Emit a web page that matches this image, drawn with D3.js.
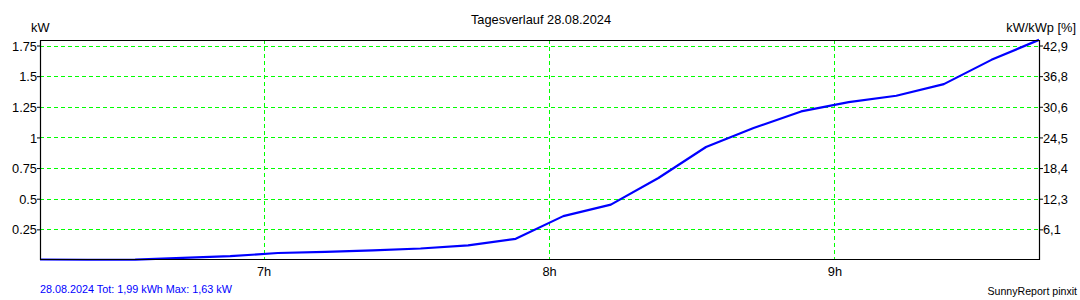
<!DOCTYPE html>
<html><head><meta charset="utf-8">
<script src="https://cdn.jsdelivr.net/npm/d3@7"></script>
<style>
body{margin:0;background:#fff;}
svg{display:block;font-family:"Liberation Sans",Arial,sans-serif;}
</style></head>
<body><svg id="c" width="1080" height="300"></svg>
<script>
// Data: times (hours) at 10-minute intervals from 6:13 to 9:43, power in kW
const times = ["6:13","6:23","6:33","6:43","6:53","7:03","7:13","7:23","7:33","7:43","7:53","8:03","8:13","8:23","8:33","8:43","8:53","9:03","9:13","9:23","9:33","9:43"];
const powerKW = [0.004,0.002,0.003,0.018,0.031,0.057,0.067,0.079,0.094,0.120,0.173,0.358,0.452,0.669,0.922,1.077,1.212,1.288,1.340,1.435,1.633,1.796];
const leftTicks = [0.25,0.5,0.75,1,1.25,1.5,1.75];
const rightTickLabels = ["6,1","12,3","18,4","24,5","30,6","36,8","42,9"];
const hourTicks = [7,8,9];
const kWp = 4.08;
const title = "Tagesverlauf 28.08.2024";
const footer = "28.08.2024 Tot: 1,99 kWh Max: 1,63 kW";
const credit = "SunnyReport pinxit";

const toH = s => { const [h,m] = s.split(":").map(Number); return h + m/60; };
const L = 40, R = 1039, T = 40, B = 260;
const svg = d3.select("#c");
const x = d3.scaleLinear().domain([toH(times[0]), toH(times[times.length-1])]).range([L, R]);
const y = d3.scaleLinear().domain([0, 1.795]).range([B, T]);

// grid
const g = svg.append("g");
g.selectAll("line.h").data(leftTicks).join("line")
  .attr("x1", L).attr("x2", R).attr("y1", d => Math.round(y(d))+0.5).attr("y2", d => Math.round(y(d))+0.5)
  .attr("stroke", "#00ff00").attr("stroke-dasharray", "4,3");
g.selectAll("line.v").data(hourTicks).join("line")
  .attr("y1", T).attr("y2", B).attr("x1", d => Math.round(x(d))+0.5).attr("x2", d => Math.round(x(d))+0.5)
  .attr("stroke", "#00ff00").attr("stroke-dasharray", "4,3");

// line
const line = d3.line().x((d,i) => x(toH(times[i]))).y(d => y(d));
svg.append("path").datum(powerKW).attr("d", line)
  .attr("fill", "none").attr("stroke", "#0000ff").attr("stroke-width", 2.2).attr("stroke-linejoin","round");

// frame
svg.append("path").attr("d", `M${L+0.5},${T+0.5}H${R+0.5}V${B-0.5}H${L+0.5}Z`)
  .attr("fill", "none").attr("stroke", "#000").attr("stroke-width", 1.2);

// axes
const yAxis = d3.axisLeft(y).tickValues(leftTicks).tickSize(3).tickFormat(d3.format(""));
const ya = svg.append("g").attr("transform", `translate(${L},0)`).call(yAxis);
const yrAxis = d3.axisRight(y).tickValues(leftTicks).tickSize(3).tickFormat((d,i) => rightTickLabels[i]);
const yra = svg.append("g").attr("transform", `translate(${R+1},0)`).call(yrAxis);
const xAxis = d3.axisBottom(x).tickValues(hourTicks).tickSize(0).tickFormat(d => d + "h");
const xa = svg.append("g").attr("transform", `translate(0,${B})`).call(xAxis);
[ya, yra, xa].forEach(a => {
  a.select(".domain").remove();
  a.selectAll(".tick line").attr("stroke", "#000");
  a.selectAll("text").attr("font-size", 12.8).attr("fill", "#000").attr("font-family", "Liberation Sans, Arial, sans-serif");
});
ya.selectAll("text").attr("x", -3).attr("dy", "0.36em");
yra.selectAll("text").attr("x", 3).attr("dy", "0.36em");
xa.selectAll("text").attr("y", 7);

// texts
svg.append("text").attr("x", 541).attr("y", 24).attr("text-anchor", "middle").attr("font-size", 12.8).text(title);
svg.append("text").attr("x", 31).attr("y", 32).attr("font-size", 12.8).text("kW");
svg.append("text").attr("x", 1076).attr("y", 32).attr("text-anchor", "end").attr("font-size", 12.8).text("kW/kWp [%]");
svg.append("text").attr("x", 40).attr("y", 293).attr("font-size", 10.8).attr("fill", "#0000ff").text(footer);
svg.append("text").attr("x", 1077).attr("y", 295).attr("text-anchor", "end").attr("font-size", 10.6).attr("fill", "#000").text(credit);
</script></body></html>
